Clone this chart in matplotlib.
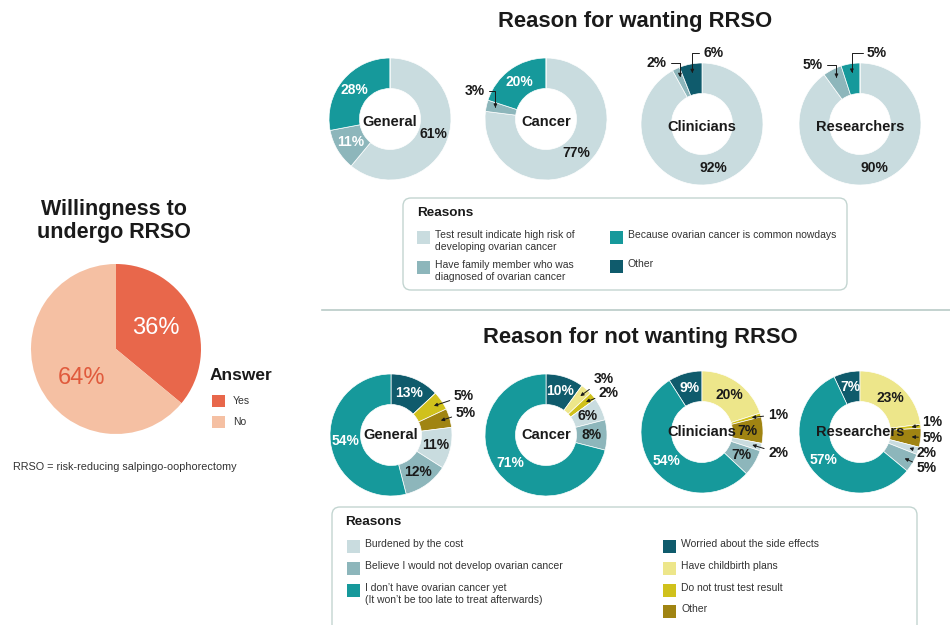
import numpy as np
import matplotlib.pyplot as plt
from matplotlib.patches import Rectangle, FancyBboxPatch

plt.rcParams['font.family'] = ['Liberation Sans', 'DejaVu Sans']

W, H = 950, 625

# willingness
answers = ['Yes', 'No']
answer_pct = [36, 64]
answer_colors = ['#E8674B', '#F5C0A3']

groups = ['General', 'Cancer', 'Clinicians', 'Researchers']

# reasons for wanting RRSO (clockwise from 12 o'clock)
want_reasons = ['Test result indicate high risk of\ndeveloping ovarian cancer',
                'Have family member who was\ndiagnosed of ovarian cancer',
                'Because ovarian cancer is common nowdays',
                'Other']
want_general = [61, 11, 28, 0]
want_cancer = [77, 3, 20, 0]
want_clinicians = [92, 2, 0, 6]
want_researchers = [90, 5, 5, 0]
want_colors = ['#C9DCDF', '#8DB6BB', '#16999B', '#0F5B6C']
want_txt = ['#1a1a1a', 'white', 'white', 'white']

# reasons for not wanting RRSO
notwant_reasons = ['Worried about the side effects',
                   'Have childbirth plans',
                   'Do not trust test result',
                   'Other',
                   'Burdened by the cost',
                   'Believe I would not develop ovarian cancer',
                   'I don\u2019t have ovarian cancer yet\n(It won\u2019t be too late to treat afterwards)']
notwant_general = [13, 0, 5, 5, 11, 12, 54]
notwant_cancer = [10, 3, 2, 0, 6, 8, 71]
notwant_clinicians = [9, 20, 1, 7, 2, 7, 54]
notwant_researchers = [7, 23, 1, 5, 2, 5, 57]
notwant_colors = ['#0F5B6C', '#EDE68A', '#D0C11C', '#A08412',
                  '#C9DCDF', '#8DB6BB', '#16999B']
notwant_txt = ['white', '#1a1a1a', '#1a1a1a', '#1a1a1a',
               '#1a1a1a', '#1a1a1a', 'white']

want_data = [want_general, want_cancer, want_clinicians, want_researchers]
notwant_data = [notwant_general, notwant_cancer, notwant_clinicians, notwant_researchers]

# layout (pixels, y measured from top)
R = 61
top_cx = [390, 546, 702, 860]
top_cy = [119, 119, 124, 124]
bot_cx = [391, 546, 702, 860]
bot_cy = [435, 435, 432, 432]
bot_wrap = [False, False, True, True]   # first slice ends at 12 o'clock
# callout text offsets for small slices (dx, dy in px)
top_ext = [{}, {1: (-21, -17)}, {1: (-23, -14), 3: (21, -20)}, {1: (-24, -13), 2: (25, -20)}]
bot_ext = [{2: (30, -10), 3: (25, -8)},
           {1: (23, -17), 2: (23, -9)},
           {2: (26, -3), 4: (26, 8)},
           {2: (21, -5), 3: (21, 1), 4: (17, 5), 5: (22, 10)}]

fig = plt.figure(figsize=(W / 100, H / 100), dpi=100)
ax = fig.add_axes([0, 0, 1, 1])


def Y(y):
    return H - y


def donut(cx, cy, vals, colors, txtc, ext, start, elbow):
    wedges, _ = ax.pie(vals, colors=colors, radius=R, center=(cx, Y(cy)),
                       startangle=start, counterclock=False,
                       wedgeprops=dict(width=R * 0.5, edgecolor='white', linewidth=0.5))
    for i, w in enumerate(wedges):
        if vals[i] == 0:
            continue
        a = np.deg2rad((w.theta1 + w.theta2) / 2)
        lab = f'{vals[i]}%'
        if i in ext:
            r = 0.85 * R
            px, py = cx + r * np.cos(a), Y(cy) + r * np.sin(a)
            dx, dy = ext[i]
            if elbow:
                cs = 'angle,angleA=90,angleB=0' if abs(dx) < abs(dy) and i == 1 and vals[0] < 80 else 'angle,angleA=0,angleB=90'
            else:
                cs = 'arc3'
            ax.annotate(lab, xy=(px, py), xytext=(px + dx, py - dy),
                        ha='center', va='center', fontsize=10, fontweight='bold',
                        color='#1a1a1a',
                        arrowprops=dict(arrowstyle='-|>', color='#1a1a1a', lw=0.7,
                                        mutation_scale=5, shrinkA=1, shrinkB=0,
                                        connectionstyle=cs))
        else:
            r = 0.75 * R
            ax.text(cx + r * np.cos(a), Y(cy) + r * np.sin(a), lab, ha='center', va='center',
                    fontsize=10, fontweight='bold', color=txtc[i])


# willingness pie
pw, _ = ax.pie(answer_pct, colors=answer_colors, radius=85, center=(116, Y(349)),
               startangle=90, counterclock=False)
pct_colors = ['white', '#E05A3C']
pct_shift = [3, 15]
for i, w in enumerate(pw):
    a = np.deg2rad((w.theta1 + w.theta2) / 2 + pct_shift[i])
    ax.text(116 + 45 * np.cos(a), Y(349) + 45 * np.sin(a), f'{answer_pct[i]}%',
            ha='center', va='center', fontsize=17, color=pct_colors[i])

ax.text(114, Y(221), 'Willingness to\nundergo RRSO', ha='center', va='center',
        fontsize=15.5, fontweight='bold', color='#1a1a1a', linespacing=1.1)
ax.text(210, Y(375), 'Answer', ha='left', va='center', fontsize=12.5,
        fontweight='bold', color='#1a1a1a')
for i, (lab, c) in enumerate(zip(answers, answer_colors)):
    yy = 401 + i * 21
    ax.add_patch(Rectangle((212, Y(yy) - 6), 13, 12, color=c, lw=0))
    ax.text(233, Y(yy), lab, ha='left', va='center', fontsize=7.5, color='#333333')
ax.text(13, Y(467), 'RRSO = risk-reducing salpingo-oophorectomy', ha='left', va='center',
        fontsize=7.8, color='#333333')

# top section
ax.text(635, Y(22), 'Reason for wanting RRSO', ha='center', va='center',
        fontsize=15.8, fontweight='bold', color='#1a1a1a')
for k in range(4):
    donut(top_cx[k], top_cy[k], want_data[k], want_colors, want_txt, top_ext[k], 90, True)
    ax.text(top_cx[k], Y(top_cy[k] + 3), groups[k], ha='center', va='center',
            fontsize=10.5, fontweight='bold', color='#1a1a1a')

ax.add_patch(FancyBboxPatch((403, Y(290)), 444, 92, boxstyle='round,pad=0,rounding_size=8',
                            fc='white', ec='#C3D5D1', lw=1.0))
ax.text(417, Y(213), 'Reasons', ha='left', va='center', fontsize=9.7, fontweight='bold',
        color='#1a1a1a')
top_leg = [(417, 237, 0), (417, 267, 1), (610, 237, 2), (610, 266, 3)]
for x0, y0, i in top_leg:
    ax.add_patch(Rectangle((x0, Y(y0) - 6.5), 13, 13, color=want_colors[i], lw=0))
    ax.text(x0 + 18, Y(y0 - 7), want_reasons[i], ha='left', va='top', fontsize=7.5,
            color='#333333', linespacing=1.25)

# separator
ax.plot([322, 950], [Y(310), Y(310)], color='#B9CBC7', lw=1.2)

# bottom section
ax.text(640, Y(338), 'Reason for not wanting RRSO', ha='center', va='center',
        fontsize=15.8, fontweight='bold', color='#1a1a1a')
for k in range(4):
    vals = notwant_data[k]
    st = 90 + vals[0] * 3.6 if bot_wrap[k] else 90
    donut(bot_cx[k], bot_cy[k], vals, notwant_colors, notwant_txt, bot_ext[k], st, False)
    ax.text(bot_cx[k], Y(bot_cy[k]), groups[k], ha='center', va='center',
            fontsize=10.5, fontweight='bold', color='#1a1a1a')

ax.add_patch(FancyBboxPatch((332, Y(640)), 585, 133, boxstyle='round,pad=0,rounding_size=8',
                            fc='white', ec='#C3D5D1', lw=1.0))
ax.text(345, Y(522), 'Reasons', ha='left', va='center', fontsize=9.7, fontweight='bold',
        color='#1a1a1a')
bot_leg = [(347, 546, 4), (347, 568, 5), (347, 590, 6),
           (663, 546, 0), (663, 568, 1), (663, 590, 2), (663, 611, 3)]
for x0, y0, i in bot_leg:
    ax.add_patch(Rectangle((x0, Y(y0) - 6.5), 13, 13, color=notwant_colors[i], lw=0))
    ax.text(x0 + 18, Y(y0 - 7), notwant_reasons[i], ha='left', va='top', fontsize=7.5,
            color='#333333', linespacing=1.3)

ax.set_xlim(0, W)
ax.set_ylim(0, H)
ax.set_aspect('equal')
ax.axis('off')

fig.savefig('out.png', dpi=100)
